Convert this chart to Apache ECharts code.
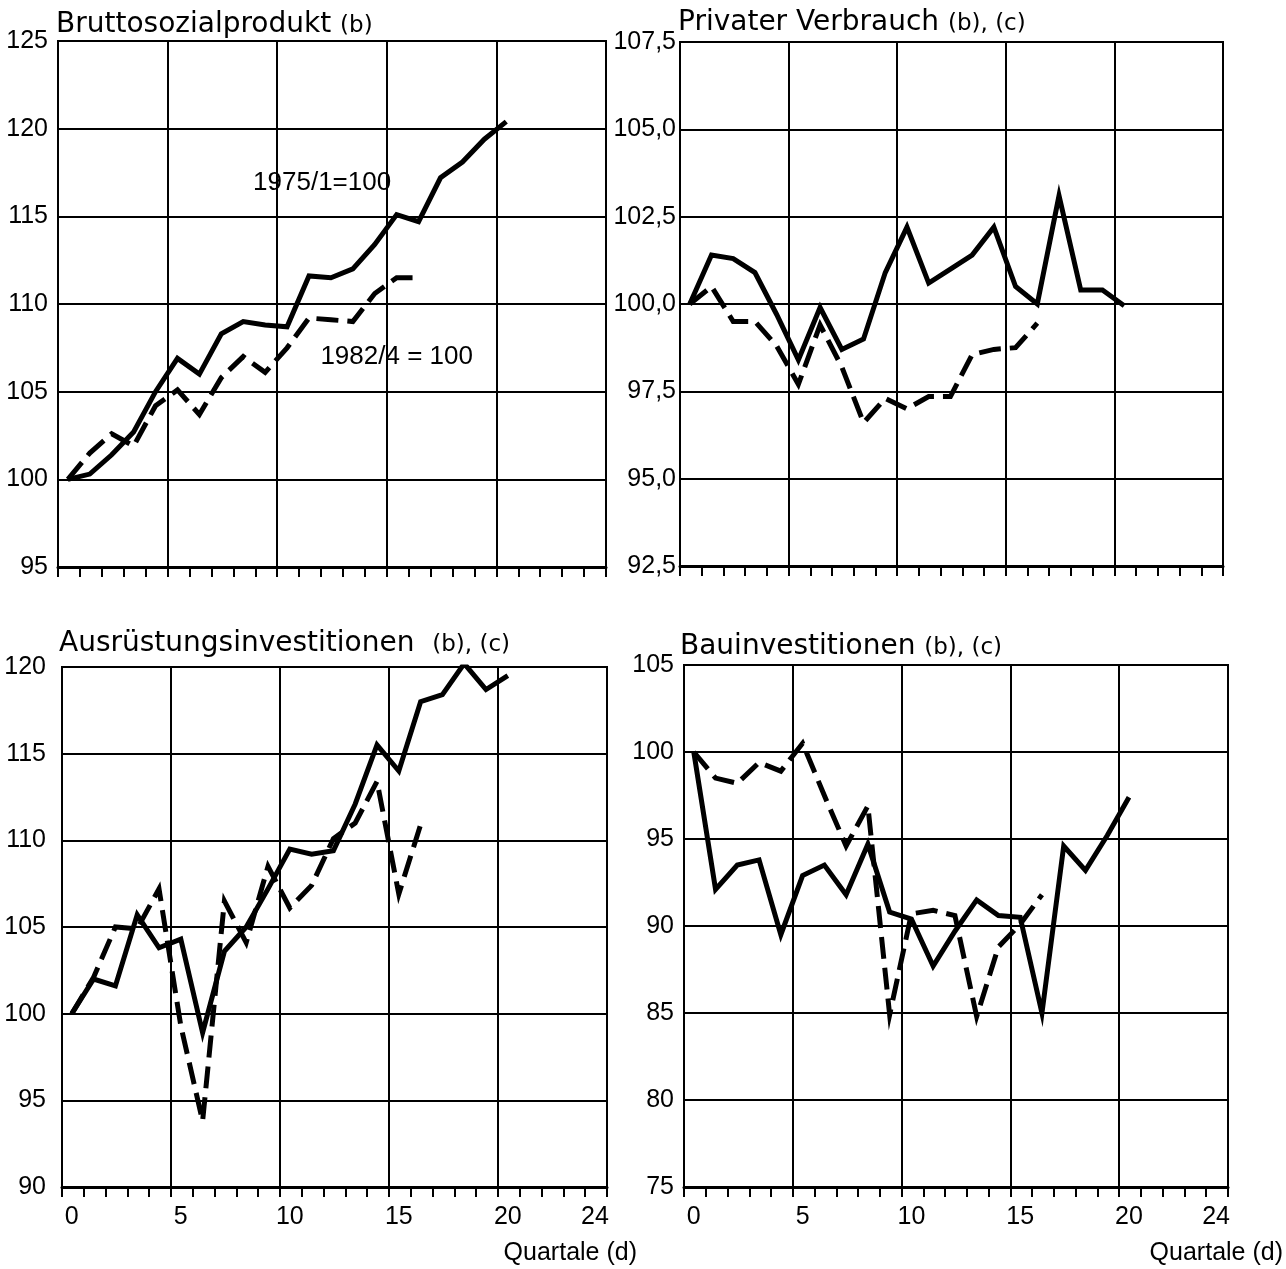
<!DOCTYPE html>
<html>
<head>
<meta charset="utf-8">
<script src="https://cdn.jsdelivr.net/npm/echarts@6/dist/echarts.min.js"></script>
<style>
  html, body { margin: 0; padding: 0; background: #fff; }
  #chart { width: 1286px; height: 1269px; }
</style>
</head>
<body>
<div id="chart"></div>
<script>
// Quartale (x)
var quartale = [0, 1, 2, 3, 4, 5, 6, 7, 8, 9, 10, 11, 12, 13, 14, 15, 16, 17, 18, 19, 20];
var xLabels = [0, 5, 10, 15, 20, 24];

// Bruttosozialprodukt (b)
var bspSolid = [100, 100.3, 101.4, 102.7, 105.0, 106.9, 106.0, 108.3, 109.0, 108.8, 108.7, 111.6, 111.5, 112.0, 113.4, 115.1, 114.7, 117.2, 118.1, 119.4, 120.4];
var bspDashed = [100, 101.5, 102.6, 101.9, 104.2, 105.1, 103.7, 105.8, 107.0, 106.1, 107.5, 109.2, 109.1, 109.0, 110.6, 111.5, 111.5];

// Privater Verbrauch (b), (c)
var pvSolid = [100, 101.4, 101.3, 100.9, 99.7, 98.4, 99.9, 98.7, 99.0, 100.9, 102.2, 100.6, 101.0, 101.4, 102.2, 100.5, 100.0, 103.1, 100.4, 100.4, 99.95];
var pvDashed = [100, 100.5, 99.5, 99.5, 98.8, 97.7, 99.4, 98.2, 96.6, 97.3, 97.0, 97.35, 97.35, 98.55, 98.7, 98.75, 99.45];

// Ausruestungsinvestitionen (b), (c)
var ausSolid = [100, 102.0, 101.6, 105.7, 103.8, 104.3, 98.9, 103.6, 105.0, 107.2, 109.5, 109.2, 109.4, 112.1, 115.5, 114.0, 118.0, 118.4, 120.2, 118.7, 119.5];
var ausDashed = [100, 102.1, 105.0, 104.9, 107.2, 99.3, 93.8, 106.5, 104.1, 108.5, 106.1, 107.4, 110.1, 111.0, 113.4, 106.9, 110.9];

// Bauinvestitionen (b), (c)
var bauSolid = [100, 92.1, 93.5, 93.8, 89.5, 92.9, 93.5, 91.8, 94.7, 90.8, 90.4, 87.7, 89.7, 91.5, 90.6, 90.5, 85.0, 94.6, 93.2, 95.2, 97.4];
var bauDashed = [100, 98.5, 98.2, 99.4, 98.9, 100.5, 97.5, 94.6, 96.9, 84.9, 90.7, 90.9, 90.6, 84.8, 88.8, 90.1, 91.8];

var FONT = "'Liberation Sans', Arial, sans-serif";
var TFONT = "'DejaVu Sans', sans-serif";

var panels = [
    {title: 'Bruttosozialprodukt {s|(b)}', tl: [56, 11], grid: {left: 58, top: 41, width: 548, height: 526},
     min: 95, max: 125, step: 5, dec: 0, lblMargin: 10, xLabels: false, solid: bspSolid, dashed: bspDashed},
    {title: 'Privater Verbrauch {s|(b), (c)}', tl: [678, 9], grid: {left: 680, top: 42, width: 543, height: 524},
     min: 92.5, max: 107.5, step: 2.5, dec: 1, lblMargin: 4, xLabels: false, solid: pvSolid, dashed: pvDashed},
    {title: 'Ausrüstungsinvestitionen  {s|(b), (c)}', tl: [59, 630], grid: {left: 62, top: 667, width: 545, height: 520},
     min: 90, max: 120, step: 5, dec: 0, lblMargin: 16, xLabels: true, solid: ausSolid, dashed: ausDashed},
    {title: 'Bauinvestitionen {s|(b), (c)}', tl: [680, 633], grid: {left: 684, top: 665, width: 544, height: 522},
     min: 75, max: 105, step: 5, dec: 0, lblMargin: 10, xLabels: true, solid: bauSolid, dashed: bauDashed}
];

function pairs(vals) {
    return vals.map(function (v, i) { return [quartale[i], v]; });
}

var option = {
    animation: false,
    backgroundColor: '#fff',
    title: [],
    grid: [],
    xAxis: [],
    yAxis: [],
    series: []
};

panels.forEach(function (p, i) {
    option.title.push({
        text: p.title, left: p.tl[0], top: p.tl[1], padding: 0,
        textStyle: {fontFamily: TFONT, fontSize: 28, fontWeight: 'normal', color: '#000',
            rich: {s: {fontFamily: TFONT, fontSize: 23, color: '#000', padding: [3, 0, 0, 0]}}}
    });
    option.grid.push({
        left: p.grid.left, top: p.grid.top, width: p.grid.width, height: p.grid.height,
        show: true, borderColor: '#000', borderWidth: 2, backgroundColor: 'transparent'
    });
    // ticks + labels
    option.xAxis.push({
        type: 'value', gridIndex: i, min: -0.45, max: 24.55, interval: 1, position: 'bottom',
        axisLine: {show: true, onZero: false, lineStyle: {color: '#000', width: 3}},
        axisTick: {show: true, inside: false, length: 10, lineStyle: {color: '#000', width: 2}},
        axisLabel: {show: p.xLabels, customValues: xLabels, margin: 18, color: '#000',
            fontFamily: FONT, fontSize: 25, formatter: function (v) { return String(v); }},
        splitLine: {show: false}
    });
    // vertical gridlines every 5 quarters
    option.xAxis.push({
        type: 'value', gridIndex: i, min: -0.45, max: 24.55, interval: 5, position: 'bottom',
        axisLine: {show: false, onZero: false}, axisTick: {show: false}, axisLabel: {show: false},
        splitLine: {show: true, lineStyle: {color: '#000', width: 2}}
    });
    option.yAxis.push({
        type: 'value', gridIndex: i, min: p.min, max: p.max, interval: p.step,
        axisLine: {show: true, onZero: false, lineStyle: {color: '#000', width: 2}},
        axisTick: {show: false},
        axisLabel: {margin: p.lblMargin, color: '#000', fontFamily: FONT, fontSize: 25,
            formatter: (function (dec) {
                return function (v) { return v.toFixed(dec).replace('.', ','); };
            })(p.dec)},
        splitLine: {show: true, lineStyle: {color: '#000', width: 2}}
    });
    option.series.push({
        type: 'line', xAxisIndex: 2 * i, yAxisIndex: i, data: pairs(p.solid),
        showSymbol: false, symbol: 'none', z: 5,
        lineStyle: {color: '#000', width: 5, type: 'solid', join: 'miter'}
    });
    option.series.push({
        type: 'line', xAxisIndex: 2 * i, yAxisIndex: i, data: pairs(p.dashed),
        showSymbol: false, symbol: 'none', z: 5,
        lineStyle: {color: '#000', width: 5, type: [22, 9], join: 'miter'}
    });
});

// annotations in the first panel (data coordinates)
option.series[0].markPoint = {
    symbol: 'circle', symbolSize: 1, itemStyle: {color: 'transparent'},
    label: {show: true, position: 'inside', color: '#000', fontFamily: FONT, fontSize: 26,
        formatter: function (d) { return d.name; }},
    data: [{name: '1975/1=100', coord: [11.6, 116.9]}, {name: '1982/4 = 100', coord: [15.0, 107.0]}]
};

// axis names below the lower panels
option.title.push({text: 'Quartale (d)', right: 649, top: 1241, padding: 0,
    textStyle: {fontFamily: FONT, fontSize: 25, fontWeight: 'normal', color: '#000'}});
option.title.push({text: 'Quartale (d)', right: 3, top: 1241, padding: 0,
    textStyle: {fontFamily: FONT, fontSize: 25, fontWeight: 'normal', color: '#000'}});

var chart = echarts.init(document.getElementById('chart'));
chart.setOption(option);
</script>
</body>
</html>
